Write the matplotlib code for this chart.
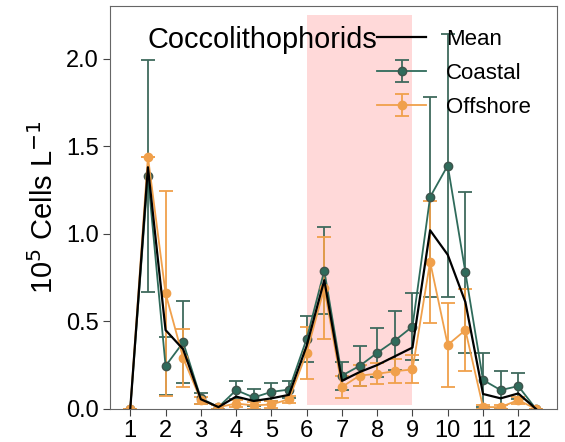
import numpy as np
import matplotlib.pyplot as plt
import matplotlib as mpl

mpl.rcParams["font.family"] = ["Liberation Sans", "DejaVu Sans"]

# half-month sampling, months 1..12.5
months = [1, 1.5, 2, 2.5, 3, 3.5, 4, 4.5, 5, 5.5, 6, 6.5,
          7, 7.5, 8, 8.5, 9, 9.5, 10, 10.5, 11, 11.5, 12, 12.5]

coastal = [0.0, 1.33, 0.245, 0.38, 0.06, 0.01, 0.107, 0.065, 0.097, 0.11, 0.40, 0.79,
           0.19, 0.245, 0.32, 0.39, 0.47, 1.21, 1.39, 0.78, 0.165, 0.107, 0.13, 0.0]
coastal_err = [0.0, 0.665, 0.165, 0.235, 0.03, 0.01, 0.05, 0.05, 0.05, 0.05, 0.13, 0.25,
               0.08, 0.115, 0.14, 0.17, 0.19, 0.57, 0.75, 0.46, 0.155, 0.11, 0.075, 0.0]

offshore = [0.0, 1.44, 0.66, 0.29, 0.05, 0.01, 0.03, 0.02, 0.025, 0.055, 0.32, 0.69,
            0.125, 0.19, 0.20, 0.215, 0.225, 0.84, 0.365, 0.45, 0.01, 0.01, 0.05, 0.0]
offshore_err = [0.0, 0.0, 0.585, 0.165, 0.02, 0.01, 0.02, 0.02, 0.02, 0.02, 0.15, 0.29,
                0.065, 0.06, 0.06, 0.07, 0.08, 0.35, 0.24, 0.235, 0.01, 0.01, 0.02, 0.0]

mean = [0.0, 1.38, 0.45, 0.34, 0.055, 0.01, 0.07, 0.045, 0.06, 0.08, 0.36, 0.735,
        0.16, 0.21, 0.25, 0.30, 0.35, 1.02, 0.88, 0.61, 0.085, 0.06, 0.088, 0.0]

SHADE = (6, 9)
GREEN = "#2f6b5b"
ORANGE = "#f0a04b"

fig = plt.figure(figsize=(5.65, 4.42), dpi=100)
ax = fig.add_axes([0.195, 0.075, 0.791, 0.911])

ax.fill_between(SHADE, 0.02, 2.25, color="#ffd9d9", lw=0, zorder=0)

ax.errorbar(months, coastal, yerr=coastal_err, fmt="-o", color=GREEN, ecolor="#3f6a5d",
            mfc=GREEN, mec="#3e544c", ms=6, lw=1.3, elinewidth=1.3, capsize=5,
            capthick=1.3, label="Coastal", zorder=2)
ax.errorbar(months, offshore, yerr=offshore_err, fmt="-o", color=ORANGE, ecolor=ORANGE,
            ms=6, lw=1.3, elinewidth=1.3, capsize=5, capthick=1.3,
            label="Offshore", zorder=2)
ax.plot(months, mean, color="black", lw=1.6, label="Mean", zorder=3)

ax.set_xlim(0.43, 13.1)
ax.set_ylim(0, 2.3)
ax.set_xticks(range(1, 13))
ax.set_yticks([0, 0.5, 1.0, 1.5, 2.0])
ax.set_yticklabels(["0.0", "0.5", "1.0", "1.5", "2.0"])
ax.tick_params(labelsize=17, length=5, direction="out", color="#444444", pad=3)
for s in ax.spines.values():
    s.set_color("#666666")

ax.set_ylabel(r"10$^5$ Cells L$^{-1}$", fontsize=21, labelpad=5)

ax.text(0.083, 0.915, "Coccolithophorids", transform=ax.transAxes,
        fontsize=20.8, va="center", ha="left")

h, l = ax.get_legend_handles_labels()
order = [l.index("Mean"), l.index("Coastal"), l.index("Offshore")]
ax.legend([h[i] for i in order], [l[i] for i in order], loc="upper left",
          bbox_to_anchor=((377 - 110) / 447, 0.943), frameon=False, fontsize=16,
          borderpad=0, borderaxespad=0, handlelength=2.2, handletextpad=0.9,
          labelspacing=0.58)

fig.savefig("out.png")
